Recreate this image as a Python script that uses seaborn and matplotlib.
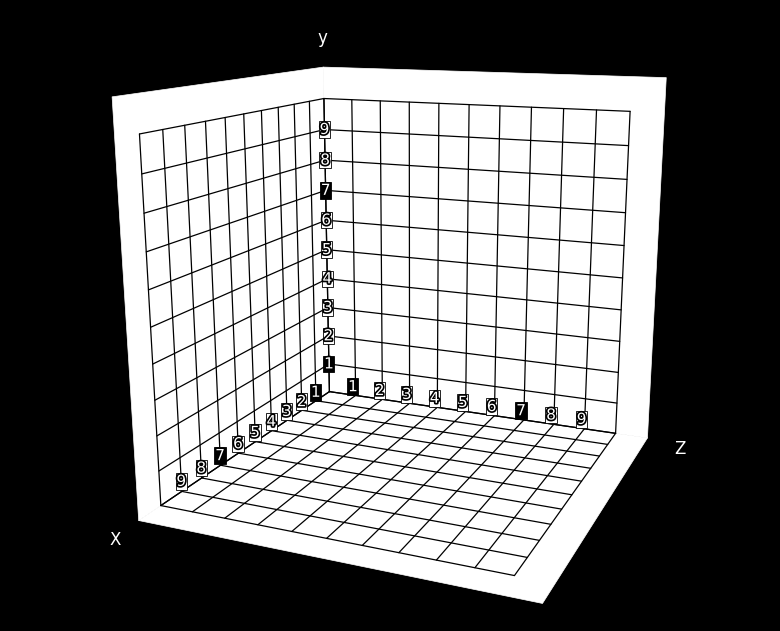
import numpy as np
import matplotlib
matplotlib.use("Agg")
import matplotlib.pyplot as plt
import matplotlib.patheffects as pe
import seaborn as sns
from mpl_toolkits.mplot3d.art3d import Poly3DCollection

sns.set_theme(style="white")
plt.rcParams['font.family'] = ['DejaVu Sans']

# grid: 10 cells per wall, plates reach one unit beyond the grid
grid_lines = list(range(0, 11))
plate_size = 11
x_ticks = [1, 2, 3, 4, 5, 6, 7, 8, 9]
y_ticks = [1, 2, 3, 4, 5, 6, 7, 8, 9]
z_ticks = [1, 2, 3, 4, 5, 6, 7, 8, 9]
dark_digits = [1, 7]   # these labels show up as filled black tags
axis_names = ['X', 'y', 'Z']

fig = plt.figure(figsize=(7.8, 6.31), dpi=100)
fig.patch.set_facecolor('black')
ax = fig.add_axes([0.02, 0.028, 1, 1], projection='3d', computed_zorder=False)
ax.set_facecolor('black')

# scene X -> mpl x, scene Z -> mpl y, scene Y (up) -> mpl z
P = plate_size
plates = [
    [(0, 0, 0), (P, 0, 0), (P, P, 0), (0, P, 0)],   # floor
    [(0, 0, 0), (P, 0, 0), (P, 0, P), (0, 0, P)],   # left wall (XY)
    [(0, 0, 0), (0, P, 0), (0, P, P), (0, 0, P)],   # right wall (YZ)
]
ax.add_collection3d(Poly3DCollection(plates, facecolor='white', edgecolor='white',
                                     linewidth=0.5, zorder=1))

g0, g1 = grid_lines[0], grid_lines[-1]
for v in grid_lines:
    kw = dict(color='black', lw=0.9, zorder=2)
    # floor
    ax.plot([v, v], [g0, g1], [0, 0], **kw)
    ax.plot([g0, g1], [v, v], [0, 0], **kw)
    # left wall
    ax.plot([v, v], [0, 0], [g0, g1], **kw)
    ax.plot([g0, g1], [0, 0], [v, v], **kw)
    # right wall
    ax.plot([0, 0], [v, v], [g0, g1], **kw)
    ax.plot([0, 0], [g0, g1], [v, v], **kw)


def tick_label(x, y, z, t):
    dark = t in dark_digits
    box = dict(boxstyle='square,pad=0.05', facecolor='black' if dark else 'white',
               edgecolor='black', lw=0.6)
    ax.text(x, y, z, str(t), ha='center', va='center', fontsize=11, color='white',
            path_effects=[pe.withStroke(linewidth=2.4, foreground='black')],
            bbox=box, zorder=3)


for t in x_ticks:
    tick_label(t, 0, 0.3, t)
for t in z_ticks:
    tick_label(0, t - 0.1, 0.3, t)
for t in y_ticks:
    tick_label(0, 0, t, t)

name_kw = dict(color='white', fontsize=12, ha='center', va='center', zorder=3)
ax.text(12.0, 0, -0.1, axis_names[0], **name_kw)
ax.text(0, 0, 11.9, axis_names[1], **name_kw)
ax.text(0, 12.0, -0.2, axis_names[2], **name_kw)

ax.set_xlim(0, P)
ax.set_ylim(0, P)
ax.set_zlim(0, P)
ax.set_box_aspect((1, 1, 1), zoom=1.07)
ax.set_proj_type('persp', focal_length=0.35)
ax.view_init(elev=14.5, azim=23)
ax.set_axis_off()

fig.savefig('out.png', dpi=100, facecolor='black')
